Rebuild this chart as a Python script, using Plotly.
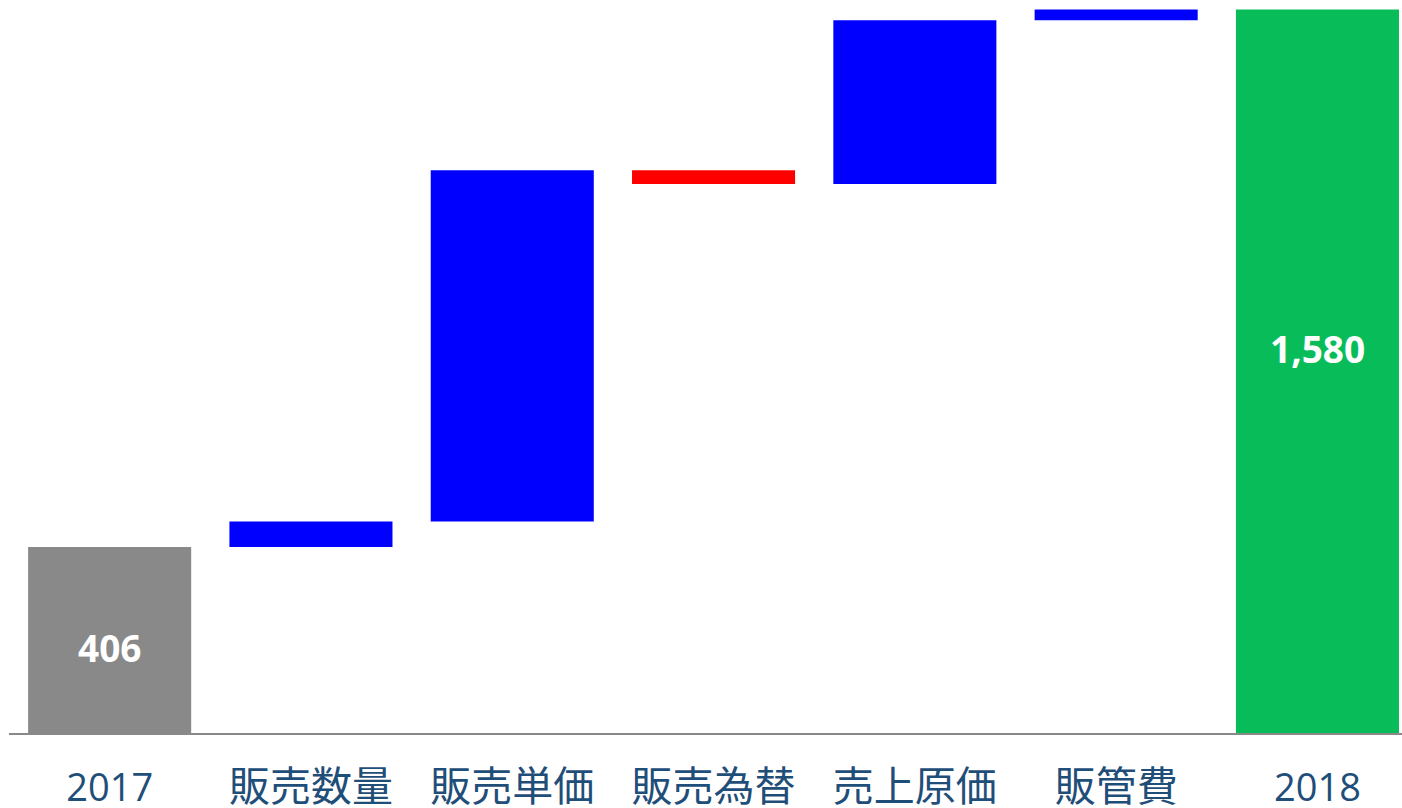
import plotly.graph_objects as go

categories = ["2017", "販売数量", "販売単価", "販売為替", "売上原価", "販管費", "2018"]
start_value = 406
deltas = [56, 767, -30, 358, 23]
end_value = 1580
bar_colors = ["#898989", "#0000FF", "#0000FF", "#FF0000", "#0000FF", "#0000FF", "#08BD59"]

# build bases/heights from the data
bases = [0]
heights = [start_value]
running = start_value
for d in deltas:
    bases.append(running)
    heights.append(d)
    running += d
bases.append(0)
heights.append(end_value)

FONT = "Open Sans, Noto Sans CJK JP, sans-serif"

fig = go.Figure(
    go.Bar(
        x=categories,
        y=heights,
        base=bases,
        width=0.81,
        marker=dict(color=bar_colors, line=dict(width=0)),
        hoverinfo="skip",
    )
)

# value labels for the two totals (category index used so "2017"/"2018" aren't read as numbers)
for idx, val, shift in [(0, start_value, -7), (len(categories) - 1, end_value, 23)]:
    fig.add_annotation(
        x=idx, y=val / 2, xref="x", yref="y", text=f"{val:,}", showarrow=False, yshift=shift,
        font=dict(family=FONT, size=37, color="white", weight="bold"),
    )

ticktext = [c if c.isdigit() else f'<span style="font-size:41px">{c}</span>' for c in categories]

fig.update_layout(
    width=1402,
    height=808,
    margin=dict(l=9, r=0, t=0, b=75),
    paper_bgcolor="white",
    plot_bgcolor="white",
    showlegend=False,
)
fig.update_xaxes(
    type="category",
    range=[-0.5, 6.42],
    tickvals=categories,
    ticktext=ticktext,
    showline=True,
    linecolor="#898989",
    linewidth=2,
    showgrid=False,
    zeroline=False,
    ticks="outside",
    ticklen=20,
    tickcolor="rgba(0,0,0,0)",
    tickfont=dict(family=FONT, size=38, color="#1F4E79"),
    automargin=False,
    fixedrange=True,
)
fig.update_yaxes(
    range=[0, 1601],
    visible=False,
    showgrid=False,
    zeroline=False,
    fixedrange=True,
)

fig.write_html(
    "out.html",
    config={"displayModeBar": False},
    post_script="document.body.style.margin='0';document.body.style.overflow='hidden';",
)
